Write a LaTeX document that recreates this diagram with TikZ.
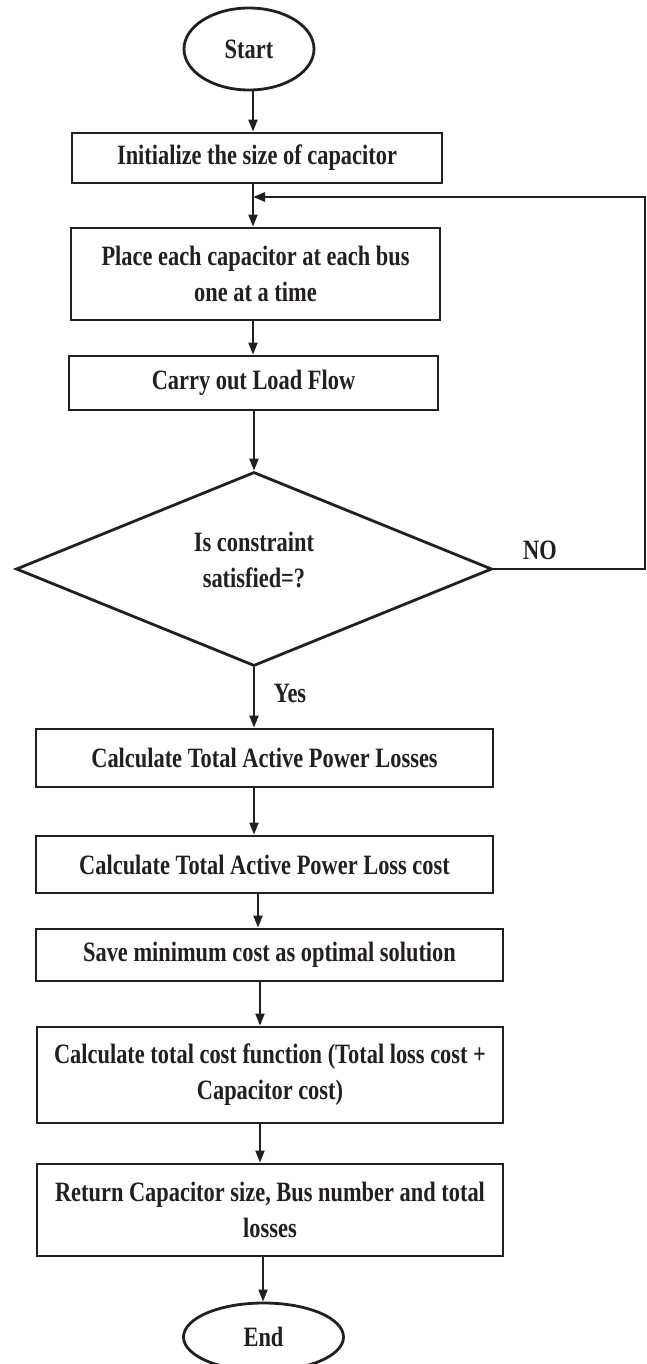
\documentclass[tikz,border=0pt]{standalone}
\usepackage{fontspec}
\setmainfont{Liberation Serif}[FakeStretch=0.80]
\usetikzlibrary{shapes.geometric,arrows.meta}
\definecolor{ink}{RGB}{35,31,32}
\tikzset{
  base/.style={draw=ink, text=ink, line width=2.8pt, inner sep=0pt,
    font=\fontsize{28}{36}\selectfont\bfseries, align=center},
  procbox/.style={base, rectangle},
  term/.style={base, ellipse},
  decide/.style={base, diamond},
  arr/.style={draw=ink, line width=2pt, -{Triangle[length=12pt,width=9pt]}},
  loopline/.style={arr, line width=2.8pt},
  lbl/.style={text=ink, inner sep=0pt, font=\fontsize{28}{36}\selectfont\bfseries}
}
\begin{document}
\begin{tikzpicture}[x=1pt,y=-1pt]
\useasboundingbox (0,0) rectangle (646,1364);
\node[term, minimum width=130pt, minimum height=82pt] (start) at (249,49) {Start};
\node[procbox, minimum width=370pt, minimum height=50pt] (init) at (257,158) {Initialize the size of capacitor};
\node[procbox, minimum width=369pt, minimum height=92pt] (place) at (255.5,274) {Place each capacitor at each bus\\one at a time};
\node[procbox, minimum width=369pt, minimum height=54pt] (carry) at (253.5,383) {Carry out Load Flow};
\node[decide, minimum width=476pt, minimum height=194pt,
  label={[lbl, align=center, yshift=9pt]center:Is constraint\\satisfied=?}] (dia) at (254,569) {};
\node[procbox, minimum width=457pt, minimum height=58pt] (losses) at (264.5,758) {Calculate Total Active Power Losses};
\node[procbox, minimum width=457pt, minimum height=57pt] (losscost) at (264.5,864.5) {Calculate Total Active Power Loss cost};
\node[procbox, minimum width=467pt, minimum height=52pt] (save) at (269.5,955) {Save minimum cost as optimal solution};
\node[procbox, minimum width=466pt, minimum height=96pt] (total) at (270,1075) {Calculate total cost function (Total loss cost +\\Capacitor cost)};
\node[procbox, minimum width=466pt, minimum height=92pt] (ret) at (270,1210) {Return Capacitor size, Bus number and total\\losses};
\node[term, minimum width=160pt, minimum height=68pt] (stop) at (263.5,1337) {End};

\draw[arr] (start.south -| 253,0) -- (init.north -| 253,0);
\draw[arr] (init.south -| 253,0) -- (place.north -| 253,0);
\draw[arr] (place.south -| 253,0) -- (carry.north -| 253,0);
\draw[arr] (carry.south -| 254,0) -- (dia.north);
\draw[arr] (dia.south) -- (losses.north -| dia.south);
\draw[arr] (losses.south -| 254,0) -- (losscost.north -| 254,0);
\draw[arr] (losscost.south -| 258,0) -- (save.north -| 258,0);
\draw[arr] (save.south -| 260,0) -- (total.north -| 260,0);
\draw[arr] (total.south -| 260,0) -- (ret.north -| 260,0);
\draw[arr] (ret.south -| 263,0) -- (stop.north -| 263,0);

\coordinate (corner) at (645,197);
\coordinate (joinpt) at (253,197);
\draw[loopline] (dia.east) -| (corner) -- (joinpt);

\node[lbl] (nolbl) at (540,550) {NO};
\node[lbl] (yeslbl) at (290,693) {Yes};
\end{tikzpicture}
\end{document}
